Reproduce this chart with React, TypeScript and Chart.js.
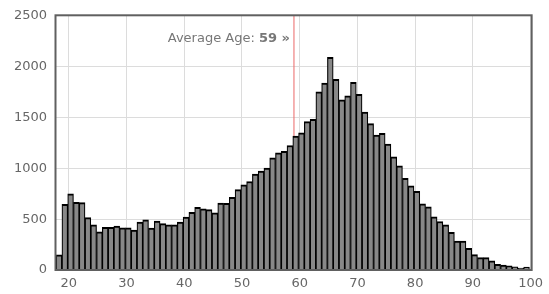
import React, { useEffect, useRef } from "react";
import { Chart, registerables } from "chart.js";

Chart.register(...registerables);

const ages: number[] = [
  18, 19, 20, 21, 22, 23, 24, 25, 26, 27, 28, 29, 30, 31, 32, 33, 34, 35, 36, 37, 38, 39,
  40, 41, 42, 43, 44, 45, 46, 47, 48, 49, 50, 51, 52, 53, 54, 55, 56, 57, 58, 59,
  60, 61, 62, 63, 64, 65, 66, 67, 68, 69, 70, 71, 72, 73, 74, 75, 76, 77, 78, 79,
  80, 81, 82, 83, 84, 85, 86, 87, 88, 89, 90, 91, 92, 93, 94, 95, 96, 97, 98, 99,
];

const counts: number[] = [
  150, 645, 750, 665, 662, 515, 445, 375, 420, 420, 432, 415, 415, 392, 472, 494, 412, 480, 456, 444, 444, 472,
  520, 568, 617, 602, 594, 563, 658, 656, 714, 790, 838, 870, 944, 972, 1002, 1102, 1152, 1166, 1224, 1318,
  1348, 1460, 1482, 1752, 1838, 2092, 1874, 1674, 1714, 1845, 1728, 1552, 1440, 1328, 1344, 1238, 1112, 1025, 902, 829,
  774, 651, 622, 522, 477, 445, 371, 284, 284, 213, 151, 122, 122, 90, 55, 48, 42, 32, 19, 29,
];

const xTicks: number[] = [20, 30, 40, 50, 60, 70, 80, 90, 100];
const yTicks: number[] = [0, 500, 1000, 1500, 2000, 2500];

const AVERAGE_AGE = 59;
const AVG_LABEL = "Average Age: ";
const AVG_VALUE = "59 »";

const FONT = "'DejaVu Sans', Verdana, sans-serif";

const avgPlugin = {
  id: "avgLine",
  beforeDatasetsDraw(chart: any) {
    const { ctx, chartArea, scales } = chart;
    const x = scales.x.getPixelForValue(AVERAGE_AGE);
    ctx.save();
    ctx.strokeStyle = "rgba(235, 110, 110, 0.7)";
    ctx.lineWidth = 1.5;
    ctx.beginPath();
    ctx.moveTo(x, chartArea.top);
    ctx.lineTo(x, chartArea.bottom);
    ctx.stroke();

    ctx.textBaseline = "alphabetic";
    ctx.fillStyle = "#777777";
    ctx.font = `13px ${FONT}`;
    const w1 = ctx.measureText(AVG_LABEL).width;
    ctx.font = `bold 13px ${FONT}`;
    const w2 = ctx.measureText(AVG_VALUE).width;
    const start = x - 4 - w1 - w2;
    const baseY = chartArea.top + 26;
    ctx.font = `13px ${FONT}`;
    ctx.textAlign = "left";
    ctx.fillText(AVG_LABEL, start, baseY);
    ctx.font = `bold 13px ${FONT}`;
    ctx.fillText(AVG_VALUE, start + w1, baseY);
    ctx.restore();
  },
};

const framePlugin = {
  id: "frame",
  afterDatasetsDraw(chart: any) {
    const { ctx, chartArea } = chart;
    ctx.save();
    ctx.strokeStyle = "#606060";
    ctx.lineWidth = 2;
    ctx.strokeRect(
      chartArea.left + 0.5,
      chartArea.top - 0.5,
      chartArea.right - chartArea.left,
      chartArea.bottom - chartArea.top + 0.5
    );
    ctx.restore();
  },
};

export default function App() {
  const canvasRef = useRef<HTMLCanvasElement | null>(null);

  useEffect(() => {
    document.body.style.margin = "0";
    const canvas = canvasRef.current;
    if (!canvas) return;

    const data = ages.map((a, i) => ({ x: a + 0.3, y: counts[i] }));

    const chart = new Chart(canvas, {
      type: "bar",
      data: {
        datasets: [
          {
            data: data as any,
            backgroundColor: "#888888",
            borderColor: "#000000",
            borderWidth: { top: 2, left: 1.2, right: 1.2, bottom: 0 } as any,
            barPercentage: 1,
            categoryPercentage: 1,
          },
        ],
      },
      options: {
        responsive: false,
        animation: false,
        devicePixelRatio: 1,
        layout: { padding: { top: 11, right: 14, left: 0, bottom: 0 } },
        plugins: {
          legend: { display: false },
          tooltip: { enabled: false },
        },
        scales: {
          x: {
            type: "linear",
            min: 17.6,
            max: 100.1,
            offset: false,
            grid: {
              offset: false,
              color: "#dcdcdc",
              lineWidth: 1,
              drawTicks: false,
            },
            border: { display: false },
            ticks: {
              color: "#666666",
              font: { family: FONT, size: 13 },
              padding: 6,
              maxRotation: 0,
              autoSkip: false,
              callback: (v: any) => String(v),
            },
            afterBuildTicks: (scale: any) => {
              scale.ticks = xTicks.map((v) => ({ value: v }));
            },
            afterFit: (scale: any) => {
              scale.height = 24;
            },
          },
          y: {
            type: "linear",
            min: 0,
            max: 2500,
            grid: {
              color: "#dcdcdc",
              lineWidth: 1,
              drawTicks: false,
            },
            border: { display: false },
            ticks: {
              color: "#666666",
              font: { family: FONT, size: 13 },
              padding: 8,
              autoSkip: false,
              callback: (v: any) => String(v),
            },
            afterBuildTicks: (scale: any) => {
              scale.ticks = yTicks.map((v) => ({ value: v }));
            },
            afterFit: (scale: any) => {
              scale.width = 55;
            },
          },
        },
      },
      plugins: [avgPlugin, framePlugin],
    });

    return () => {
      chart.destroy();
    };
  }, []);

  return (
    <canvas
      ref={canvasRef}
      width={549}
      height={294}
      style={{ display: "block", width: "549px", height: "294px" }}
    />
  );
}
